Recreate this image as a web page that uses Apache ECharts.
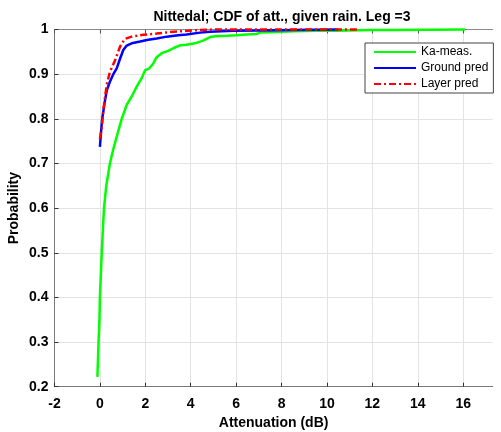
<!DOCTYPE html>
<html>
<head>
<meta charset="utf-8">
<script src="https://cdn.jsdelivr.net/npm/echarts@6/dist/echarts.min.js"></script>
<style>
html,body{margin:0;padding:0;background:#fff;}
#chart{width:501px;height:432px;}
</style>
</head>
<body>
<div id="chart"></div>
<script>
var titleText = 'Nittedal; CDF of att., given rain. Leg =3';
var xAxisName = 'Attenuation (dB)';
var yAxisName = 'Probability';
var seriesNames = ['Ka-meas.', 'Ground pred', 'Layer pred'];
var xTicks = [-2, 0, 2, 4, 6, 8, 10, 12, 14, 16];

var kaX = [-0.11, -0.06, -0.02, 0.00, 0.04, 0.08, 0.13, 0.18, 0.28, 0.44, 0.58, 0.74, 0.96, 1.18, 1.40, 1.62, 1.84, 1.99, 2.18, 2.35, 2.50, 2.72, 3.01, 3.23, 3.50, 3.80, 4.19, 4.55, 4.85, 5.10, 5.60, 6.02, 6.46, 6.90, 7.05, 7.49, 8.00, 8.52, 9.50, 10.4, 11.9, 13.0, 16.08];
var kaY = [0.222, 0.30, 0.35, 0.40, 0.45, 0.50, 0.55, 0.60, 0.65, 0.70, 0.73, 0.76, 0.80, 0.831, 0.850, 0.872, 0.891, 0.909, 0.913, 0.924, 0.938, 0.947, 0.952, 0.958, 0.964, 0.966, 0.969, 0.975, 0.983, 0.985, 0.986, 0.987, 0.989, 0.990, 0.993, 0.994, 0.995, 0.996, 0.997, 0.997, 0.999, 0.999, 1.0];

var groundX = [0.00, 0.05, 0.10, 0.15, 0.22, 0.30, 0.44, 0.59, 0.74, 0.89, 1.03, 1.18, 1.40, 1.77, 2.13, 2.50, 2.94, 3.45, 3.82, 4.41, 4.85, 5.87, 7.0, 8.5, 10.5];
var groundY = [0.737, 0.771, 0.80, 0.816, 0.84, 0.863, 0.883, 0.90, 0.913, 0.935, 0.954, 0.964, 0.969, 0.973, 0.977, 0.980, 0.984, 0.987, 0.989, 0.993, 0.995, 0.997, 0.998, 0.999, 1.0];

var layerX = [0.00, 0.08, 0.15, 0.18, 0.30, 0.44, 0.66, 0.89, 1.10, 1.40, 1.91, 2.50, 3.23, 4.11, 5.0, 11.4];
var layerY = [0.755, 0.779, 0.82, 0.831, 0.876, 0.905, 0.93, 0.962, 0.979, 0.984, 0.988, 0.991, 0.995, 0.998, 1.0, 1.0];

function pairs(xs, ys) { return xs.map(function (x, i) { return [x, ys[i]]; }); }

var FONT = 'Liberation Sans';
var chart = echarts.init(document.getElementById('chart'), null, {renderer: 'canvas'});
var axisLineColor = '#7a7a7a';

chart.setOption({
  animation: false,
  backgroundColor: '#fff',
  grid: {left: 54.5, right: 8.3, top: 29.5, bottom: 45.3, containLabel: false, outerBoundsMode: 'none'},
  graphic: [{
    type: 'text', x: 282, y: 17,
    style: {text: titleText, font: 'bold 14px "' + FONT + '"', fill: '#000', align: 'center', verticalAlign: 'middle'}
  }],
  legend: {
    orient: 'vertical', left: 365, top: 43,
    padding: [3, 5, 3, 8], itemGap: 4, itemWidth: 42, itemHeight: 14,
    backgroundColor: '#fff', borderColor: '#444', borderWidth: 1, borderRadius: 0,
    itemStyle: {opacity: 0},
    textStyle: {fontFamily: FONT, fontSize: 12, color: '#000'},
    data: seriesNames
  },
  xAxis: [{
    type: 'value', min: -2, max: 17.3, interval: 2,
    name: xAxisName, nameLocation: 'middle', nameGap: 29,
    nameTextStyle: {fontFamily: FONT, fontSize: 14, fontWeight: 'bold', color: '#000'},
    axisLine: {show: true, onZero: false, lineStyle: {color: axisLineColor, width: 1}},
    axisTick: {show: true, inside: true, length: 4, lineStyle: {color: '#333'}, customValues: xTicks},
    axisLabel: {fontFamily: FONT, fontSize: 14, fontWeight: 'bold', color: '#000', margin: 10, customValues: xTicks},
    splitLine: {show: true, lineStyle: {color: '#e3e3e3', width: 1}}
  }, {
    type: 'value', min: -2, max: 17.3, interval: 2, position: 'top',
    axisLine: {show: true, onZero: false, lineStyle: {color: '#8a8a8a', width: 1}},
    axisTick: {show: true, inside: true, length: 4, lineStyle: {color: '#555'}, customValues: xTicks},
    axisLabel: {show: false},
    splitLine: {show: false}
  }],
  yAxis: {
    type: 'value', min: 0.2, max: 1, interval: 0.1,
    name: yAxisName, nameLocation: 'middle', nameGap: 33, nameRotate: 90, nameMoveOverlap: false,
    nameTextStyle: {fontFamily: FONT, fontSize: 14, fontWeight: 'bold', color: '#000'},
    axisLine: {show: true, onZero: false, lineStyle: {color: axisLineColor, width: 1}},
    axisTick: {show: true, inside: true, length: 4, lineStyle: {color: '#333'}},
    axisLabel: {fontFamily: FONT, fontSize: 14, fontWeight: 'bold', color: '#000', margin: 6},
    splitLine: {show: true, lineStyle: {color: '#e3e3e3', width: 1}}
  },
  series: [{
    name: seriesNames[0], type: 'line', data: pairs(kaX, kaY), symbol: 'none', clip: false,
    lineStyle: {color: '#00ff00', width: 2.5}, itemStyle: {color: '#00ff00'}
  }, {
    name: seriesNames[1], type: 'line', data: pairs(groundX, groundY), symbol: 'none', clip: false,
    lineStyle: {color: '#0000ff', width: 2.5}, itemStyle: {color: '#0000ff'}
  }, {
    name: seriesNames[2], type: 'line', data: pairs(layerX, layerY), symbol: 'none', clip: false,
    lineStyle: {color: '#ff0000', width: 2.5, type: [7, 3, 2, 3]}, itemStyle: {color: '#ff0000'}
  }]
});
</script>
</body>
</html>
